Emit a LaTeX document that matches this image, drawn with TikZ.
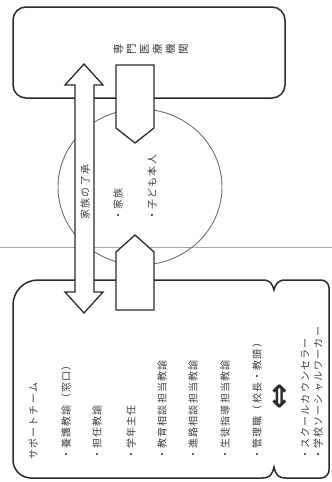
\documentclass[tikz,border=0pt]{standalone}
\usepackage{fontspec}
\newfontfamily\jp[LetterSpace=12]{Noto Sans CJK JP}
\newfontfamily\symf{DejaVu Sans}
\usetikzlibrary{arrows.meta,shapes.geometric}
\definecolor{lineC}{HTML}{2A2A2A}
\definecolor{textC}{HTML}{3C3C3C}
\definecolor{circC}{HTML}{707070}
\definecolor{foldC}{HTML}{A8A8A8}
\tikzset{
  box/.style={draw=lineC, line width=1.5pt},
  arrowshape/.style={draw=lineC, line width=1.3pt, fill=white, line join=miter},
  vtext/.style={rotate=90, anchor=west, inner sep=0pt, text=textC, font=\jp\fontsize{10}{10}\selectfont},
  ctext/.style={rotate=90, inner sep=0pt, text=textC, font=\jp\fontsize{10}{10}\selectfont},
}
\begin{document}
\begin{tikzpicture}[x=1pt, y=-1pt]
\useasboundingbox (0,0) rectangle (332,482);
\fill[white] (0,0) rectangle (332,482);
% fold line
\draw[foldC, line width=0.8pt] (0,247) -- (332,247);
% circle
\node[draw=circC, line width=0.9pt, ellipse, minimum width=164pt, minimum height=156pt, inner sep=0pt] (family) at (140,187) {};
% top box
\node[box, rounded corners=13pt, minimum width=272pt, minimum height=91pt, inner sep=0pt] (kikan) at (149,52.5) {};
\node[rotate=90, inner sep=0pt, text=textC, font=\jp\fontsize{10.5}{13}\selectfont, align=center] (kikanlabel) at (151,49) {専\\門\\医\\療\\機\\関};
% bottom box
\draw[box, fill=white] (13,305) .. controls (13,291.2) and (24.2,280) .. (38,280)
  -- (262,280) .. controls (270,280) and (272,283) .. (274,290)
  .. controls (276,283) and (278,280) .. (286,280)
  -- (321,280) .. controls (325.4,280) and (329,283.6) .. (329,288)
  -- (329,470) .. controls (329,474.4) and (325.4,478) .. (321,478)
  -- (286,478) .. controls (278,478) and (276,475) .. (274,467)
  .. controls (272,475) and (270,478) .. (262,478)
  -- (31,478) .. controls (21.1,478) and (13,469.9) .. (13,460) -- cycle;
% arrows
\draw[arrowshape] (116,65) -- (154,65) -- (154,128) -- (135,143) -- (116,128) -- cycle;
\draw[arrowshape] (116,310) -- (116,252) -- (135,235) -- (154,252) -- (154,310) -- cycle;
\draw[arrowshape] (84,64) -- (103,85) -- (94,85) -- (94,292) -- (103,292) -- (84,313)
  -- (65,292) -- (75,292) -- (75,85) -- (65,85) -- cycle;
\node[ctext] (consent) at (85,192) {家族の了承};
% circle texts
\node[vtext] (kazoku) at (118,221) {・家族};
\node[vtext] (honnin) at (152,221) {・子ども本人};
% support team
\node[vtext] (team) at (33,460) {サポートチーム};
\node[vtext] (l1) at (66,460) {・養護教諭（窓口）};
\node[vtext] (l2) at (97,460) {・担任教諭};
\node[vtext] (l3) at (131,460) {・学年主任};
\node[vtext] (l4) at (162,460) {・教育相談担当教諭};
\node[vtext] (l5) at (193,460) {・進路相談担当教諭};
\node[vtext] (l6) at (225,460) {・生徒指導担当教諭};
\node[vtext] (l7) at (257,460) {・管理職（校長・教頭）};
\node[rotate=90, inner sep=0pt, text=lineC, font=\symf\bfseries\fontsize{31}{31}\selectfont] (dbl) at (281,397) {⇔};
\node[vtext] (l8) at (305,460) {・スクールカウンセラー};
\node[vtext] (l9) at (318,460) {・学校ソーシャルワーカー};
\end{tikzpicture}
\end{document}
